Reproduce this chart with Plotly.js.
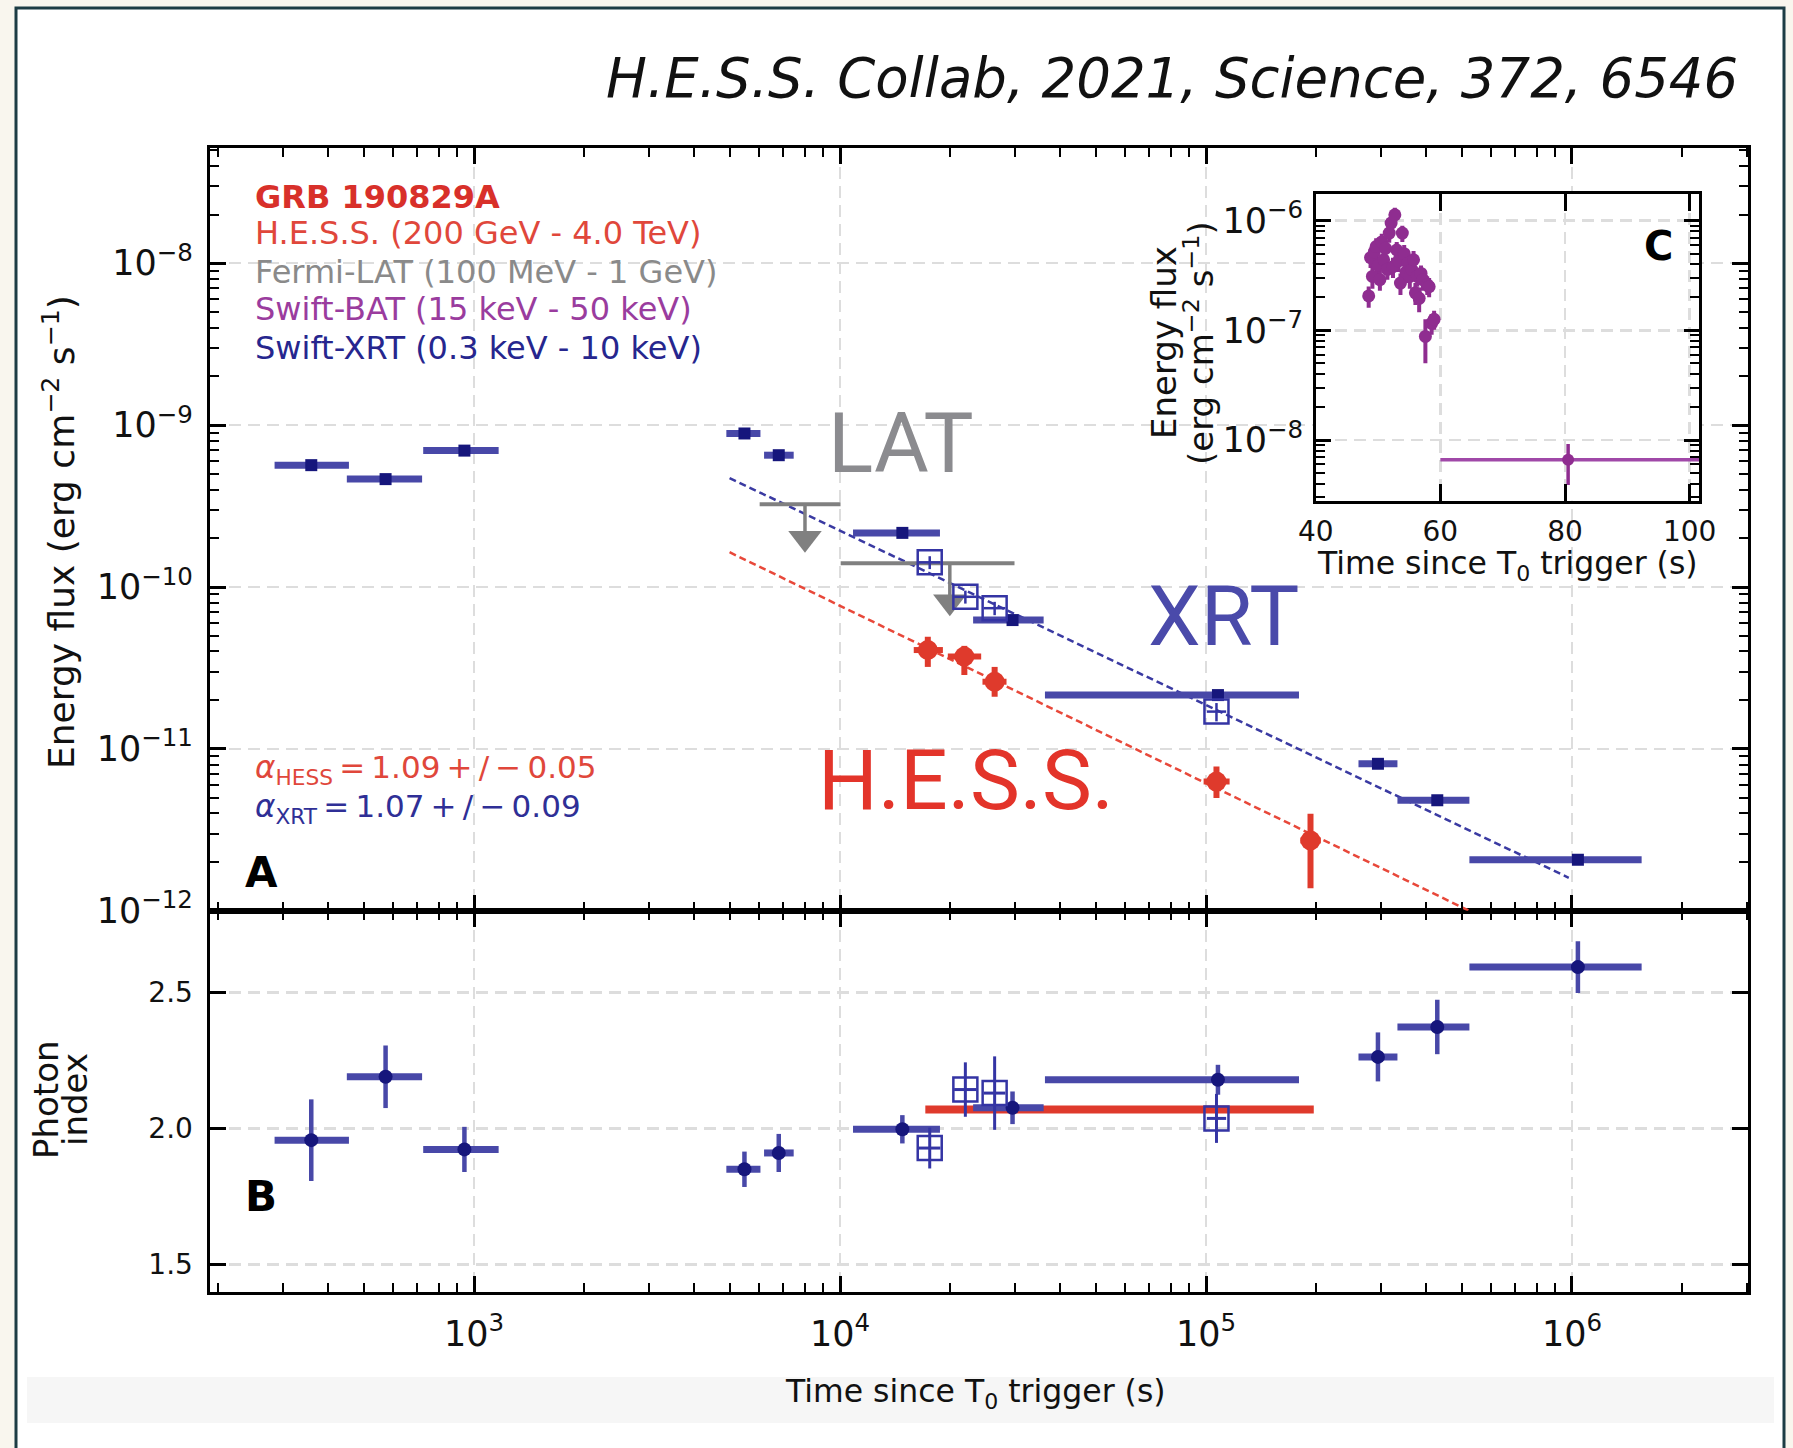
<!DOCTYPE html>
<html><head><meta charset="utf-8">
<script src="https://cdn.plot.ly/plotly-3.0.1.min.js"></script>
<style>html,body{margin:0;padding:0;background:#f9f6ee;} #chart{width:1793px;height:1448px;}</style>
</head><body><div id="chart"></div>
<script>
// ---------------- DATA ----------------
// Swift-XRT (filled squares in A, filled circles in B)
const xrtT      = [359, 573, 941, 5480, 6800, 14800, 29600, 107800, 295000, 428500, 1038000];
const xrtTlo    = [285, 449, 726, 4890, 6200, 10850, 23100, 36300, 261000, 333500, 524500];
const xrtThi    = [455, 721, 1167, 6060, 7470, 18750, 36000, 179500, 333500, 524500, 1550000];
const xrtFlux   = [5.66e-10, 4.64e-10, 6.96e-10, 8.88e-10, 6.52e-10, 2.16e-10, 6.25e-11, 2.15e-11, 8.09e-12, 4.81e-12, 2.07e-12];
const xrtIndex  = [1.957, 2.19, 1.923, 1.85, 1.91, 1.997, 2.076, 2.179, 2.263, 2.373, 2.593];
const xrtIdxErr = [0.15, 0.115, 0.083, 0.065, 0.07, 0.052, 0.06, 0.055, 0.09, 0.10, 0.095];
// Swift-XRT simultaneous with H.E.S.S. (open squares)
const wtT       = [17580, 22000, 26450, 106800];
const wtTlo     = [16400, 20500, 24700, 100500];
const wtThi     = [18800, 23600, 28300, 113500];
const wtFlux    = [1.42e-10, 8.7e-11, 7.4e-11, 1.70e-11];
const wtFluxErr = [1.3e-11, 8e-12, 7e-12, 2.2e-12];
const wtIndex   = [1.928, 2.143, 2.13, 2.037];
const wtIdxErr  = [0.075, 0.10, 0.135, 0.09];
// H.E.S.S.
const hessT     = [17370, 21860, 26450, 106800, 193000];
const hessTlo   = [15900, 19700, 24500, 98500, 181000];
const hessThi   = [19100, 24300, 28500, 116000, 206000];
const hessFlux  = [4.08e-11, 3.72e-11, 2.60e-11, 6.28e-12, 2.72e-12];
const hessFluxLo= [3.21e-11, 2.86e-11, 2.10e-11, 4.97e-12, 1.38e-12];
const hessFluxHi= [4.93e-11, 4.33e-11, 3.21e-11, 7.78e-12, 3.98e-12];
const hessIndex = [2.07, 2.07];
const hessIdxT  = [17100, 197000];
// Fermi-LAT upper limits
const latTlo    = [6030, 10040];
const latThi    = [10030, 29970];
const latTarrow = [8020, 19950];
const latUL     = [3.24e-10, 1.40e-10];
const latArrowEnd = [2.0e-10, 8.1e-11];
// Temporal decay fits (end points)
const xrtFitT   = [4990, 980000];
const xrtFitF   = [4.71e-10, 1.6e-12];
const hessFitT  = [4990, 524000];
const hessFitF  = [1.64e-10, 1.0e-12];
// Swift-BAT (inset)
const batT   = [48.5, 48.8, 49.1, 49.4, 49.7, 50.0, 50.3, 50.6, 50.9, 51.2, 51.5, 51.8, 52.1, 52.4, 52.7, 53.0, 53.3, 53.6, 53.9, 54.2, 54.5, 54.8, 55.1, 55.4, 55.7, 56.0, 56.3, 56.6, 56.9, 57.2, 57.6, 57.9, 58.2, 58.6, 59.0];
const batF   = [2.06e-7, 4.6e-7, 3.1e-7, 5.2e-7, 5.8e-7, 3.9e-7, 2.9e-7, 6.4e-7, 4.4e-7, 5.6e-7, 3.6e-7, 7.7e-7, 9.5e-7, 3.8e-7, 1.13e-6, 5.4e-7, 4.3e-7, 2.7e-7, 7.7e-7, 5.0e-7, 3.4e-7, 4.1e-7, 3.1e-7, 3.6e-7, 4.4e-7, 2.2e-7, 3.1e-7, 1.96e-7, 3.3e-7, 2.9e-7, 8.8e-8, 2.6e-7, 2.5e-7, 1.16e-7, 1.26e-7];
const batErr = [4.5e-8, 9e-8, 7e-8, 1.0e-7, 1.1e-7, 8e-8, 6e-8, 1.2e-7, 9e-8, 1.1e-7, 7e-8, 1.4e-7, 1.6e-7, 8e-8, 1.8e-7, 1.0e-7, 9e-8, 6e-8, 1.3e-7, 1.0e-7, 7e-8, 8e-8, 7e-8, 7e-8, 9e-8, 5e-8, 6e-8, 5e-8, 6e-8, 6e-8, 3.8e-8, 5e-8, 5e-8, 2.5e-8, 2.5e-8];
const batLateT = [80.5], batLateTlo = [60], batLateThi = [101.5];
const batLateF = [6.6e-9], batLateFlo = [3.9e-9], batLateFhi = [9.2e-9];
// Tick labels / ranges
const yIndexTicks = [1.5, 2.0, 2.5];
const insetXTicks = [40, 60, 80, 100];

// ---------------- HELPERS ----------------
const W = 1793, H = 1448;
const px = x => x / W, py = y => 1 - y / H;
const sub = (a, b) => a.map((v, i) => v - b[i]);

const cNavy = '#16167c', cNavyBar = '#4848a8', cRed = '#df3a2c', cGray = '#808080', cPurple = '#8f2d90', cOpen = '#3434a4';

const traces = [];
// fits
traces.push({x: xrtFitT, y: xrtFitF, xaxis: 'x2', yaxis: 'y2', mode: 'lines', line: {color: '#3a3aa2', width: 2.5, dash: '7px,4px'}, hoverinfo: 'skip'});
traces.push({x: hessFitT, y: hessFitF, xaxis: 'x2', yaxis: 'y2', mode: 'lines', line: {color: '#e8483a', width: 2.5, dash: '7px,4px'}, hoverinfo: 'skip'});
// LAT upper limits
traces.push({x: latTarrow, y: latUL, xaxis: 'x2', yaxis: 'y2', mode: 'markers', marker: {size: 1, color: cGray, opacity: 0},
  error_x: {type: 'data', symmetric: false, array: sub(latThi, latTarrow), arrayminus: sub(latTarrow, latTlo), thickness: 4, width: 0, color: cGray},
  error_y: {type: 'data', symmetric: false, array: latUL.map(() => 0), arrayminus: sub(latUL, latArrowEnd), thickness: 3.5, width: 0, color: cGray}});
traces.push({x: latTarrow, y: latArrowEnd, xaxis: 'x2', yaxis: 'y2', mode: 'markers', marker: {symbol: 'triangle-down', size: 29, color: cGray}});
// XRT filled (A)
traces.push({x: xrtT, y: xrtFlux, xaxis: 'x2', yaxis: 'y2', mode: 'markers', marker: {symbol: 'square', size: 12, color: cNavy},
  error_x: {type: 'data', symmetric: false, array: sub(xrtThi, xrtT), arrayminus: sub(xrtT, xrtTlo), thickness: 7, width: 0, color: cNavyBar}});
// XRT open squares (A)
traces.push({x: wtT, y: wtFlux, xaxis: 'x2', yaxis: 'y2', mode: 'markers', marker: {symbol: 'square-open', size: 24, color: cOpen, line: {width: 2.5, color: cOpen}},
  error_x: {type: 'data', symmetric: false, array: sub(wtThi, wtT), arrayminus: sub(wtT, wtTlo), thickness: 2.5, width: 0, color: cOpen},
  error_y: {type: 'data', array: wtFluxErr, thickness: 2.5, width: 0, color: cOpen}});
// HESS (A)
traces.push({x: hessT, y: hessFlux, xaxis: 'x2', yaxis: 'y2', mode: 'markers', marker: {symbol: 'circle', size: 20, color: cRed},
  error_x: {type: 'data', symmetric: false, array: sub(hessThi, hessT), arrayminus: sub(hessT, hessTlo), thickness: 6, width: 0, color: cRed},
  error_y: {type: 'data', symmetric: false, array: sub(hessFluxHi, hessFlux), arrayminus: sub(hessFlux, hessFluxLo), thickness: 6, width: 0, color: cRed}});
// Panel B
traces.push({x: hessIdxT, y: hessIndex, xaxis: 'x', yaxis: 'y', mode: 'lines', line: {color: cRed, width: 8}});
traces.push({x: xrtT, y: xrtIndex, xaxis: 'x', yaxis: 'y', mode: 'markers', marker: {symbol: 'circle', size: 14, color: cNavy},
  error_x: {type: 'data', symmetric: false, array: sub(xrtThi, xrtT), arrayminus: sub(xrtT, xrtTlo), thickness: 7, width: 0, color: cNavyBar},
  error_y: {type: 'data', array: xrtIdxErr, thickness: 4.5, width: 0, color: cNavyBar}});
traces.push({x: wtT, y: wtIndex, xaxis: 'x', yaxis: 'y', mode: 'markers', marker: {symbol: 'square-open', size: 24, color: cOpen, line: {width: 2.5, color: cOpen}},
  error_x: {type: 'data', symmetric: false, array: sub(wtThi, wtT), arrayminus: sub(wtT, wtTlo), thickness: 3, width: 0, color: cOpen},
  error_y: {type: 'data', array: wtIdxErr, thickness: 3, width: 0, color: cOpen}});
// Inset BAT
traces.push({x: batT, y: batF, xaxis: 'x3', yaxis: 'y3', mode: 'markers', marker: {symbol: 'circle', size: 13, color: cPurple},
  error_y: {type: 'data', array: batErr, thickness: 4, width: 0, color: cPurple}});
traces.push({x: batLateT, y: batLateF, xaxis: 'x3', yaxis: 'y3', mode: 'markers', marker: {symbol: 'circle', size: 12, color: cPurple},
  error_x: {type: 'data', symmetric: false, array: sub(batLateThi, batLateT), arrayminus: sub(batLateT, batLateTlo), thickness: 3.5, width: 0, color: '#a048a8'},
  error_y: {type: 'data', symmetric: false, array: sub(batLateFhi, batLateF), arrayminus: sub(batLateF, batLateFlo), thickness: 3.5, width: 0, color: cPurple}});

// ---------------- LAYOUT ----------------
const tickFont = {family: 'DejaVu Sans', size: 28, color: '#111'};
const minorLog = {ticks: 'inside', ticklen: 9, tickwidth: 2, tickcolor: '#000', dtick: 'D1', showgrid: false};
const base = {showline: true, linecolor: '#000', linewidth: 3, mirror: 'allticks', ticks: 'inside', ticklen: 16, tickwidth: 3,
  tickcolor: '#000', showgrid: true, gridcolor: '#dddddd', gridwidth: 2.5, griddash: '12px,7px', zeroline: false,
  tickfont: tickFont, automargin: false, ticklabelstandoff: 8, fixedrange: true};
const xLogRange = [2.277, 6.481];
const mainX = [px(209.5), px(1748)];

const layout = {
  width: W, height: H, autosize: false, showlegend: false,
  margin: {l: 0, r: 0, t: 0, b: 0, pad: 0},
  paper_bgcolor: '#f9f6ee', plot_bgcolor: '#ffffff',
  xaxis:  Object.assign({}, base, {type: 'log', range: xLogRange, domain: mainX, anchor: 'y', dtick: 1, exponentformat: 'power', minor: minorLog, ticklabelstandoff: 10}),
  xaxis2: Object.assign({}, base, {type: 'log', range: xLogRange, domain: mainX, anchor: 'y2', dtick: 1, showticklabels: false, matches: 'x', minor: minorLog}),
  yaxis:  Object.assign({}, base, {range: [1.399, 2.80], domain: [py(1292), py(910.8)], anchor: 'x', tickvals: yIndexTicks, ticktext: yIndexTicks.map(v => v.toFixed(1))}),
  yaxis2: Object.assign({}, base, {type: 'log', range: [-12, -7.29], domain: [py(910.8), py(148.3)], anchor: 'x2', dtick: 1, exponentformat: 'power', minor: minorLog}),
  xaxis3: Object.assign({}, base, {range: [40, 101.5], domain: [px(1315.7), px(1699)], anchor: 'y3', tickvals: insetXTicks, ticktext: insetXTicks.map(String), ticklen: 17, ticklabelstandoff: 4}),
  yaxis3: Object.assign({}, base, {type: 'log', range: [-8.553, -5.757], domain: [py(500.7), py(194)], anchor: 'x3', dtick: 1, exponentformat: 'power', ticklen: 15, minor: minorLog, ticklabelstandoff: 4}),
  shapes: [
    {type: 'rect', xref: 'paper', yref: 'paper', x0: px(16), x1: px(1784), y0: -0.02, y1: py(8), fillcolor: '#ffffff', line: {color: '#1d3c44', width: 3}, layer: 'below'},
    {type: 'rect', xref: 'paper', yref: 'paper', x0: px(27), x1: px(1774), y0: py(1423), y1: py(1377), fillcolor: '#f6f6f6', line: {width: 0}, layer: 'below'}
  ],
  annotations: []
};

function ann(text, x, y, o) {
  layout.annotations.push(Object.assign({text: text, xref: 'paper', yref: 'paper', x: px(x), y: py(y), showarrow: false,
    xanchor: 'center', yanchor: 'middle', font: {family: 'DejaVu Sans', size: 31, color: '#111'}}, o || {}));
}
const ts = '\u2009';
// title
ann('<i>H.E.S.S. Collab, 2021, Science, 372, 6546</i>', 1740, 78, {xanchor: 'right', font: {family: 'DejaVu Sans', size: 54.5, color: '#111'}});
// legend text
const legX = 253;
ann('<b>GRB 190829A</b>', legX, 197, {xanchor: 'left', font: {family: 'DejaVu Sans', size: 32, color: '#d8302a'}});
ann('H.E.S.S. (200 GeV - 4.0 TeV)', legX, 233, {xanchor: 'left', font: {family: 'DejaVu Sans', size: 32, color: '#e0473b'}});
ann('Fermi-LAT (100 MeV - 1 GeV)', legX, 272, {xanchor: 'left', font: {family: 'DejaVu Sans', size: 32, color: '#8a8a8a'}});
ann('Swift-BAT (15 keV - 50 keV)', legX, 309, {xanchor: 'left', font: {family: 'DejaVu Sans', size: 32, color: '#9a3c9e'}});
ann('Swift-XRT (0.3 keV - 10 keV)', legX, 348, {xanchor: 'left', font: {family: 'DejaVu Sans', size: 32, color: '#26268e'}});
ann('<i>α</i><sub>HESS</sub>' + ts + '=' + ts + '1.09' + ts + '+' + ts + '/' + ts + '−' + ts + '0.05', legX, 770, {xanchor: 'left', font: {family: 'DejaVu Sans', size: 31, color: '#e0473b'}});
ann('<i>α</i><sub>XRT</sub>' + ts + '=' + ts + '1.07' + ts + '+' + ts + '/' + ts + '−' + ts + '0.09', legX, 809, {xanchor: 'left', font: {family: 'DejaVu Sans', size: 31, color: '#2f2f96'}});
// big labels
ann('LAT', 901, 443, {font: {family: 'Roboto', size: 84, color: '#8b8b8f'}});
ann('XRT', 1223, 616, {font: {family: 'Roboto', size: 84, color: '#4a4aaa'}});
ann('H.E.S.S.', 966, 780, {font: {family: 'Roboto', size: 84, color: '#e3342a'}});
// panel letters
ann('<b>A</b>', 261, 872, {font: {family: 'DejaVu Sans', size: 42, color: '#000'}});
ann('<b>B</b>', 261, 1196, {font: {family: 'DejaVu Sans', size: 42, color: '#000'}});
ann('<b>C</b>', 1658, 246, {font: {family: 'DejaVu Sans', size: 40, color: '#000'}});
// axis titles
ann('Energy flux (erg cm<sup>−2</sup> s<sup>−1</sup>)', 59, 532, {textangle: -90, font: {family: 'DejaVu Sans', size: 36, color: '#111'}});
ann('Photon', 46, 1100, {textangle: -90, font: {family: 'DejaVu Sans', size: 34, color: '#111'}});
ann('index', 75, 1100, {textangle: -90, font: {family: 'DejaVu Sans', size: 34, color: '#111'}});
ann('Time since T<sub>0</sub> trigger (s)', 975, 1393, {font: {family: 'DejaVu Sans', size: 31.5, color: '#111'}});
ann('Energy flux', 1164, 343, {textangle: -90, font: {family: 'DejaVu Sans', size: 34, color: '#111'}});
ann('(erg cm<sup>−2</sup> s<sup>−1</sup>)', 1199, 343, {textangle: -90, font: {family: 'DejaVu Sans', size: 34, color: '#111'}});
ann('Time since T<sub>0</sub> trigger (s)', 1507, 566, {font: {family: 'DejaVu Sans', size: 31.5, color: '#111'}});

Plotly.newPlot('chart', traces, layout, {displayModeBar: false, staticPlot: true});
</script>
</body></html>
